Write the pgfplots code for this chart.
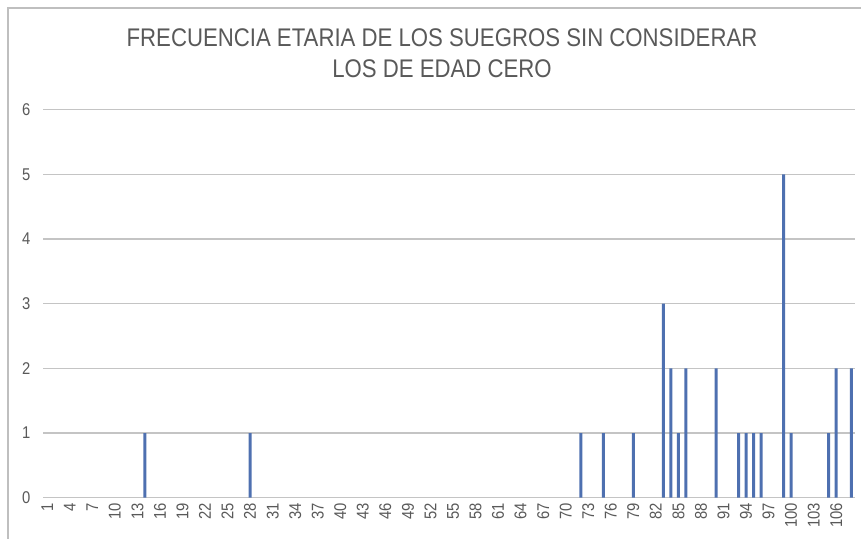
\documentclass[border=0pt]{standalone}
\usepackage{fontspec}
\setmainfont[FakeStretch=0.87]{Liberation Sans}
\usepackage{pgfplots}
\pgfplotsset{compat=1.18}
\definecolor{barblue}{HTML}{4E70B0}
\definecolor{gridgray}{HTML}{C4C4C4}
\definecolor{txtgray}{HTML}{595959}
\definecolor{framegray}{HTML}{BFBFBF}

\begin{document}
\begin{tikzpicture}[x=1pt,y=1pt]
\useasboundingbox (0,0) rectangle (861,538);
% chart frame (cropped at right and bottom)
\draw[framegray, line width=1.2pt] (8,-5) -- (8,530) -- (870,530);
\begin{axis}[
  at={(43.5pt,40.3pt)}, anchor=south west,
  scale only axis, width=811.5pt, height=388pt,
  ybar, bar width=3pt,
  xmin=0.5, xmax=108.5, ymin=0, ymax=6,
  xtick={1,4,...,106}, ytick={0,1,...,6},
  axis line style={draw=none}, major tick length=0pt,
  ymajorgrids, grid style={gridgray, line width=1.2pt},
  /pgf/number format/assume math mode=true,
  tick label style={font=\fontsize{17}{18}\selectfont, text=txtgray},
  yticklabel style={inner sep=0pt, xshift=-13pt},
  xticklabel style={rotate=90, anchor=east, inner sep=0pt},
  xticklabel shift=5pt,
  clip=false,
]
\addplot[fill=barblue, draw=none] coordinates {
  (14,1) (28,1) (72,1) (75,1) (79,1) (83,3) (84,2) (85,1) (86,2) (90,2)
  (93,1) (94,1) (95,1) (96,1) (99,5) (100,1) (105,1) (106,2) (108,2)};
\end{axis}
\node[text=txtgray, font=\fontsize{25.5}{31}\selectfont, align=center, anchor=north]
  at (442,538-25) {FRECUENCIA ETARIA DE LOS SUEGROS SIN CONSIDERAR\\LOS DE EDAD CERO};
\end{tikzpicture}
\end{document}
